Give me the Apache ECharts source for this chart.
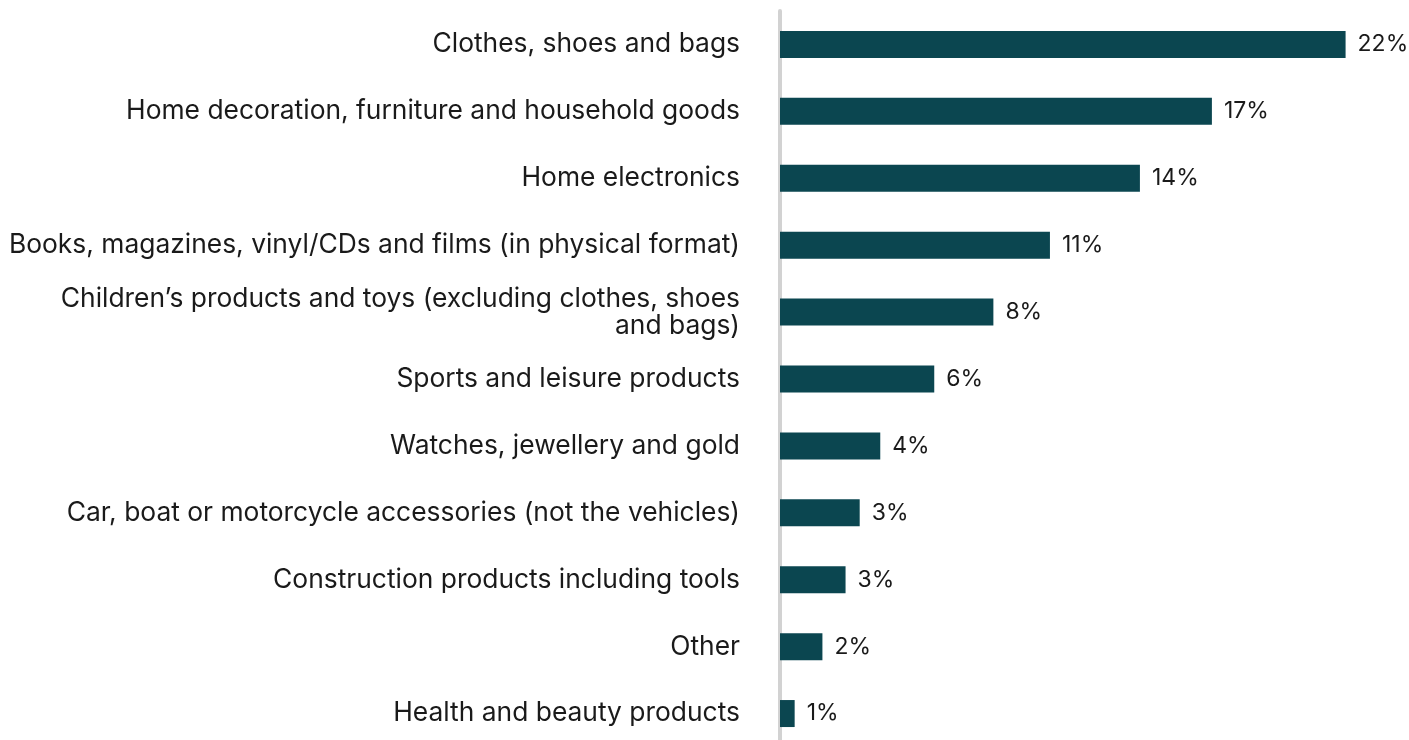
<!DOCTYPE html>
<html>
<head>
<meta charset="utf-8">
<script src="https://cdn.jsdelivr.net/npm/echarts@6/dist/echarts.min.js"></script>
<style>
  html, body { margin: 0; padding: 0; background: #ffffff; }
  #chart { width: 1409px; height: 740px; }
</style>
</head>
<body>
<div id="chart"></div>
<script>
// Product categories, top to bottom
const categories = [
  'Clothes, shoes and bags',
  'Home decoration, furniture and household goods',
  'Home electronics',
  'Books, magazines, vinyl/CDs and films (in physical format)',
  'Children\u2019s products and toys (excluding clothes, shoes\nand bags)',
  'Sports and leisure products',
  'Watches, jewellery and gold',
  'Car, boat or motorcycle accessories (not the vehicles)',
  'Construction products including tools',
  'Other',
  'Health and beauty products'
];

// Share of purchases, percent
const shares = [22.0, 16.8, 14.0, 10.5, 8.3, 6.0, 3.9, 3.1, 2.55, 1.65, 0.57];

const fontFamily = 'Inter, "Noto Sans", sans-serif';

const chart = echarts.init(document.getElementById('chart'), null, { renderer: 'canvas' });

chart.setOption({
  animation: false,
  backgroundColor: '#ffffff',
  grid: {
    left: 780, top: 11, width: 617, height: 736,
    containLabel: false,
    outerBoundsMode: 'none'
  },
  xAxis: {
    type: 'value',
    min: 0,
    max: 24,
    show: false
  },
  yAxis: {
    type: 'category',
    data: categories,
    inverse: true,
    offset: 4,
    axisLine: { show: true, lineStyle: { color: '#d2d2d2', width: 4 } },
    axisTick: { show: false },
    axisLabel: {
      margin: 36,
      color: '#1a1a1a',
      fontFamily: fontFamily,
      fontSize: 26.4,
      lineHeight: 27,
      align: 'right'
    }
  },
  series: [{
    type: 'bar',
    data: shares,
    barWidth: 27,
    itemStyle: { color: '#0b4650' },
    label: {
      show: true,
      position: 'right',
      distance: 12,
      color: '#1a1a1a',
      fontFamily: fontFamily,
      fontSize: 23,
      formatter: p => Math.round(p.value) + '%'
    }
  }]
});
</script>
</body>
</html>
